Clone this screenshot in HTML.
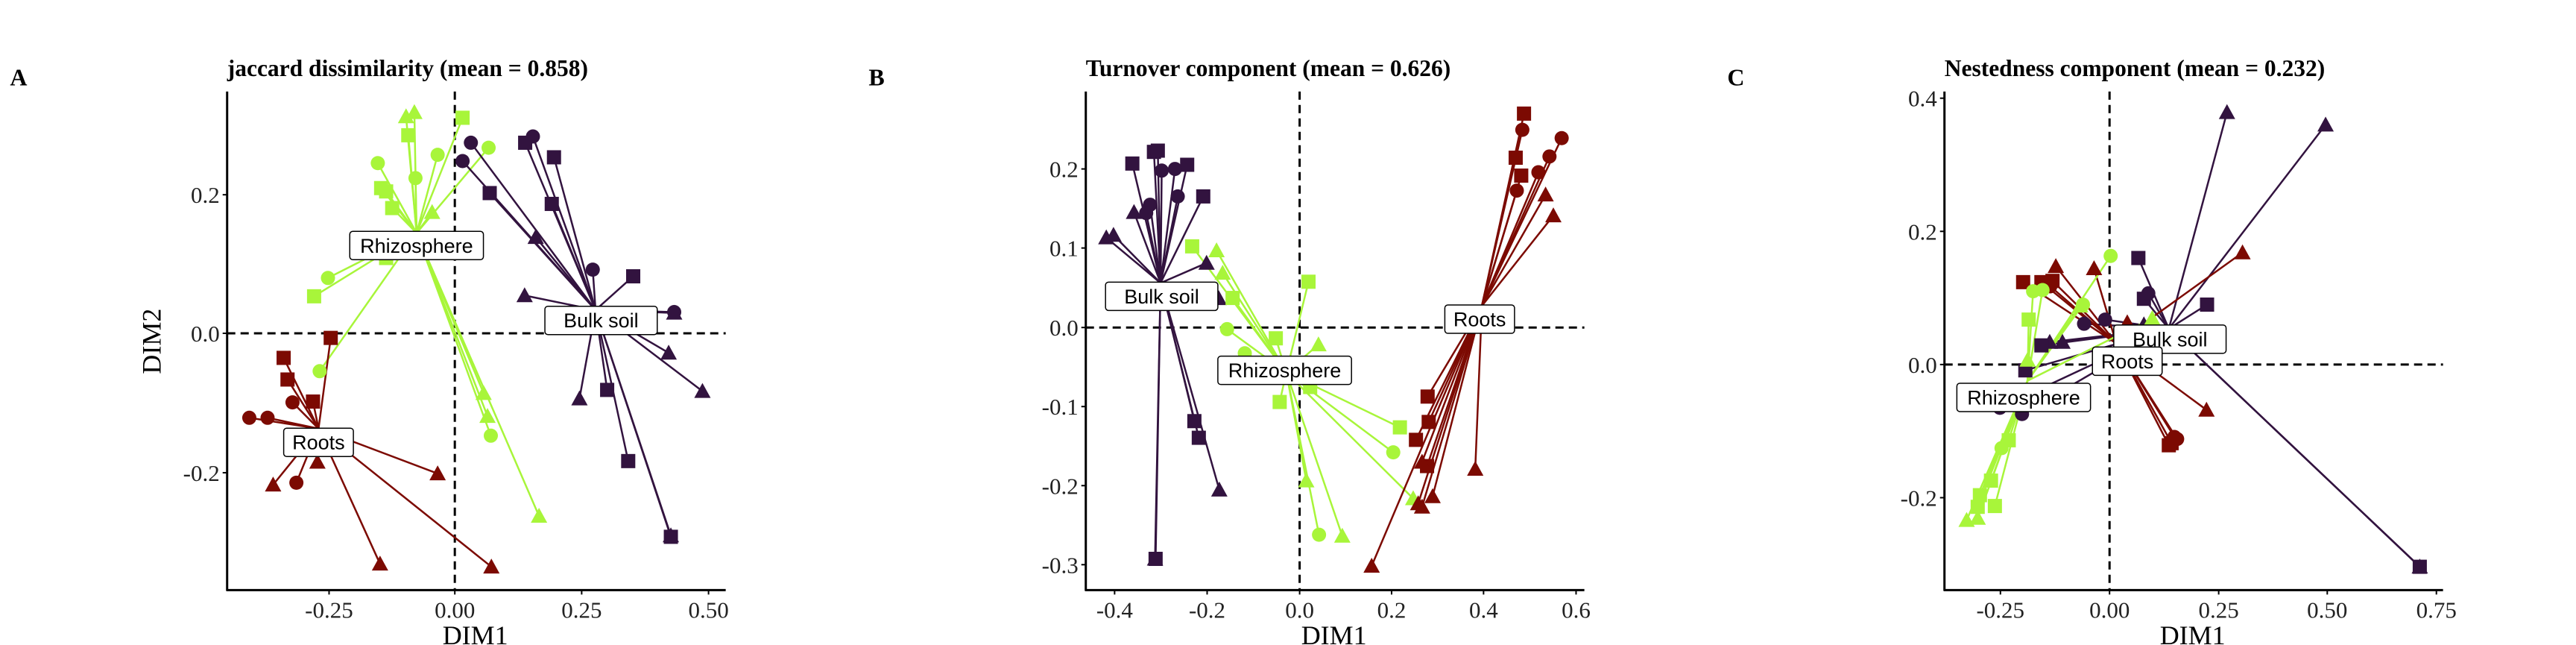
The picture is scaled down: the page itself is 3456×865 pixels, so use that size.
<!DOCTYPE html>
<html><head><meta charset="utf-8"><style>
html,body{margin:0;padding:0;background:#fff;}
svg{display:block;}
</style></head><body>
<svg id="s" width="3456" height="865" xmlns="http://www.w3.org/2000/svg"></svg>
<script>
const SX=1152/1550, SY=865/1550;
const G='#A8F53A', P='#32133F', R='#7C0A02';
let out='';
function X(o,zx){return o+zx*SX;}
function Y(zy){return zy*SY;}
function marker(sh,x,y,c){
  if(sh==='c') return `<circle cx="${x}" cy="${y}" r="9.5" fill="${c}"/>`;
  if(sh==='s') return `<rect x="${x-9.5}" y="${y-9.5}" width="19" height="19" fill="${c}"/>`;
  return `<polygon points="${x},${y-11} ${x-11},${y+9} ${x+11},${y+9}" fill="${c}"/>`;
}
function panel(o,letter,title,xt,yt,vx,hy,groups,labels){
  out+=`<line x1="${X(o,vx)}" y1="${Y(220)}" x2="${X(o,vx)}" y2="${Y(1418)}" stroke="#000" stroke-width="3" stroke-dasharray="11,7"/>`;
  out+=`<line x1="${X(o,410)}" y1="${Y(hy)}" x2="${X(o,1310)}" y2="${Y(hy)}" stroke="#000" stroke-width="3" stroke-dasharray="11,7"/>`;
  for(const g of groups){
    const cx=X(o,g.c[0]), cy=Y(g.c[1]);
    for(const p of g.pts){out+=`<line x1="${cx}" y1="${cy}" x2="${X(o,p[1])}" y2="${Y(p[2])}" stroke="${g.col}" stroke-width="2.5"/>`;}
  }
  for(const g of groups){
    for(const p of g.pts){out+=marker(p[0],X(o,p[1]),Y(p[2]),g.col);}
  }
  for(const l of labels){
    const x=X(o,l[1]), y=Y(l[2]); const w=l[0].length*14.3+22;
    out+=`<rect x="${x-w/2}" y="${y-19}" width="${w}" height="38" rx="4" fill="#fff" stroke="#000" stroke-width="1.5"/>`;
    out+=`<text x="${x}" y="${y+9.5}" font-family="Liberation Sans, sans-serif" font-size="27" text-anchor="middle">${l[0]}</text>`;
  }
  out+=`<line x1="${X(o,410)}" y1="${Y(220)}" x2="${X(o,410)}" y2="${Y(1418)+1}" stroke="#000" stroke-width="3"/>`;
  out+=`<line x1="${X(o,410)-1}" y1="${Y(1418)}" x2="${X(o,1310)}" y2="${Y(1418)}" stroke="#000" stroke-width="3"/>`;
  for(const t of xt){const x=X(o,t[1]);
    out+=`<line x1="${x}" y1="${Y(1418)}" x2="${x}" y2="${Y(1418)+6}" stroke="#000" stroke-width="2"/>`;
    out+=`<text x="${x}" y="${Y(1418)+37}" font-family="Liberation Serif, serif" font-size="31" text-anchor="middle" fill="#222">${t[0]}</text>`;}
  for(const t of yt){const y=Y(t[1]);
    out+=`<line x1="${X(o,410)-6}" y1="${y}" x2="${X(o,410)}" y2="${y}" stroke="#000" stroke-width="2"/>`;
    out+=`<text x="${X(o,410)-10}" y="${y+11}" font-family="Liberation Serif, serif" font-size="31" text-anchor="end" fill="#222">${t[0]}</text>`;}
  out+=`<text x="${X(o,858)}" y="${Y(1548)}" font-family="Liberation Serif, serif" font-size="36" text-anchor="middle">DIM1</text>`;
  out+=`<text x="${X(o,410)}" y="${Y(183)}" font-family="Liberation Serif, serif" font-weight="bold" font-size="31.5">${title}</text>`;
  out+=`<text x="${X(o,18)}" y="${Y(205)}" font-family="Liberation Serif, serif" font-weight="bold" font-size="32">${letter}</text>`;
}
panel(0,'A','jaccard dissimilarity (mean = 0.858)',
 [['-0.25',594],['0.00',821],['0.25',1050],['0.50',1279]],
 [['0.2',468],['0.0',801],['-0.2',1136]],821,801,[
 {col:G,c:[752,560],pts:[['t',733,280],['t',748,270],['t',780,510],['t',873,945],['t',880,1000],['t',973,1240],
  ['s',835,283],['s',737,325],['s',688,452],['s',697,460],['s',708,500],['s',697,620],['s',567,712],
  ['c',682,392],['c',790,372],['c',882,355],['c',750,428],['c',592,668],['c',577,892],['c',886,1047]]},
 {col:P,c:[1075,745],pts:[['c',850,343],['c',962,328],['c',835,387],['c',1070,648],['c',1217,750],
  ['s',948,343],['s',1000,378],['s',884,464],['s',996,490],['s',1143,664],['s',1096,937],['s',1134,1108],['s',1211,1290],
  ['t',967,570],['t',947,710],['t',1217,752],['t',1207,848],['t',1046,958],['t',1268,940],['t',1211,1287]]},
 {col:R,c:[575,1030],pts:[['s',597,812],['s',512,860],['s',519,912],['s',565,965],
  ['c',528,967],['c',450,1004],['c',483,1004],['c',535,1160],
  ['t',573,1110],['t',493,1165],['t',790,1138],['t',686,1355],['t',887,1362]]}],
 [['Rhizosphere',752,590],['Bulk soil',1085,770],['Roots',575,1063]]);
out+=`<text x="0" y="0" font-family="Liberation Serif, serif" font-size="36" text-anchor="middle" transform="translate(${X(0,290)} ${Y(820)}) rotate(-90)">DIM2</text>`;
panel(1152,'B','Turnover component (mean = 0.626)',
 [['-0.4',462],['-0.2',629],['0.0',796],['0.2',962],['0.4',1128],['0.6',1295]],
 [['0.2',406],['0.1',596],['0.0',787],['-0.1',977],['-0.2',1167],['-0.3',1357]],796,787,[
 {col:P,c:[545,680],pts:[['s',494,393],['s',533,365],['s',540,362],['s',593,396],['s',622,472],['s',606,1012],['s',614,1052],['s',536,1343],
  ['c',547,410],['c',571,406],['c',576,472],['c',526,492],['c',519,512],
  ['t',497,510],['t',447,571],['t',460,565],['t',628,632],['t',650,717],['t',651,1177],['t',535,1343]]},
 {col:G,c:[772,895],pts:[['s',602,592],['s',675,716],['s',753,813],['s',812,677],['s',760,966],['s',977,1027],['s',815,930],
  ['t',646,602],['t',657,656],['t',830,828],['t',808,1155],['t',873,1288],['t',1001,1198],
  ['c',665,791],['c',697,849],['c',965,1087],['c',831,1285]]},
 {col:R,c:[1125,735],pts:[['s',1201,273],['s',1186,379],['s',1196,422],['s',1027,953],['s',1029,1014],['s',1006,1057],['s',1026,1120],
  ['c',1198,312],['c',1269,332],['c',1247,376],['c',1227,414],['c',1188,458],
  ['t',1240,468],['t',1254,518],['t',1113,1127],['t',1017,1110],['t',1010,1210],['t',1017,1218],['t',1036,1193],['t',926,1360]]}],
 [['Bulk soil',547,712],['Rhizosphere',769,890],['Roots',1121,767]]);
panel(2304,'C','Nestedness component (mean = 0.232)',
 [['-0.25',511],['0.00',708],['0.25',905],['0.50',1101],['0.75',1298]],
 [['0.4',236],['0.2',556],['0.0',876],['-0.2',1196]],708,876,[
 {col:P,c:[815,790],pts:[['t',920,270],['t',1098,300],['t',1268,1362],['t',600,822],['t',623,822],['t',770,780],
  ['s',760,620],['s',884,732],['s',770,718],['s',585,830],['s',556,890],['s',1268,1362],
  ['c',778,705],['c',700,768],['c',662,778],['c',550,995],['c',510,980]]},
 {col:R,c:[720,825],pts:[['s',552,678],['s',585,678],['s',605,675],['s',820,1065],['s',815,1070],
  ['t',611,640],['t',680,645],['t',948,607],['t',883,985],['t',740,775],
  ['c',830,1055],['c',825,1050],['c',601,688]]},
 {col:G,c:[560,915],pts:[['c',710,615],['c',570,700],['c',587,697],['c',513,1077],['c',660,732],
  ['s',562,768],['s',526,1058],['s',501,1216],['s',474,1190],['s',470,1218],['s',494,1155],
  ['t',450,1250],['t',470,1245],['t',560,865],['t',785,765],['t',655,735]]}],
 [['Bulk soil',817,815],['Roots',740,868],['Rhizosphere',553,955]]);
document.getElementById('s').innerHTML=out;
</script>
</body></html>
